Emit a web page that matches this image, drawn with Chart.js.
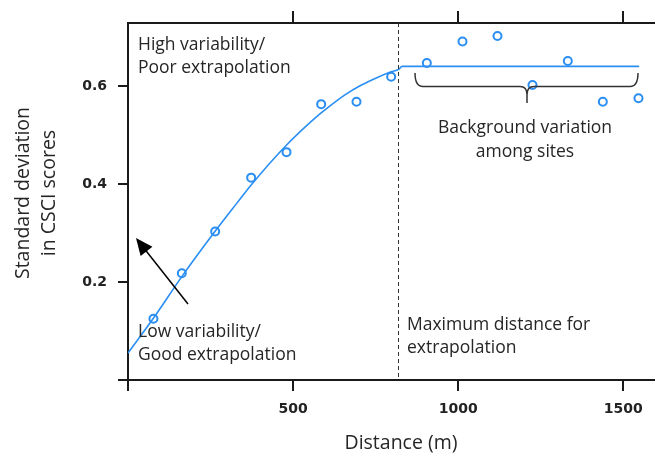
<!DOCTYPE html>
<html lang="en">
<head>
<meta charset="UTF-8">
<title>SD of CSCI scores vs distance</title>
<script src="https://cdn.jsdelivr.net/npm/chart.js@4"></script>
<style>
  html, body { margin: 0; padding: 0; background: #fff; }
  #wrap { width: 660px; height: 458px; position: relative; }
</style>
</head>
<body>
<div id="wrap"><canvas id="chart"></canvas></div>
<script>
// observed SD of CSCI scores per distance class
const siteDist = [77, 163, 264, 373, 480, 585, 692, 797, 905, 1013, 1119, 1225, 1332, 1438, 1546];
const siteSd   = [0.125, 0.218, 0.303, 0.413, 0.465, 0.563, 0.568, 0.619, 0.647, 0.691, 0.702, 0.602, 0.651, 0.568, 0.575];

// fitted curve
const fitDist = [0, 79, 164, 262, 331, 373, 481, 567, 607, 657, 707, 757, 797, 820, 830, 1548];
const fitSd   = [0.055, 0.128, 0.212, 0.302, 0.362, 0.398, 0.480, 0.535, 0.557, 0.582, 0.602, 0.618, 0.629, 0.634, 0.640, 0.640];

const xTicks = [0, 500, 1000, 1500];
const xTopTicks = [500, 1000, 1500];
const yTicks = [0, 0.2, 0.4, 0.6];
const cutoffDist = 818;

const blue = '#2a8ef2';
const ink = '#1a1a1a';
const textCol = '#262626';
const annFont = '17.5px "Open Sans"';
const titleFont = '19.5px "Open Sans"';
const tickFont = { family: 'DejaVu Sans', size: 14, weight: 'bold' };

function axisStyle() {
  return {
    grid: { drawOnChartArea: false, drawTicks: true, tickLength: 10, color: ink, lineWidth: 2 },
    border: { display: true, color: ink, width: 2 }
  };
}

const decor = {
  id: 'decor',
  afterDraw(chart) {
    const ctx = chart.ctx;
    const x = chart.scales.x;
    const area = chart.chartArea;
    ctx.save();

    // cutoff line
    const cx = Math.round(x.getPixelForValue(cutoffDist)) + 0.5;
    ctx.strokeStyle = '#333';
    ctx.lineWidth = 1;
    ctx.setLineDash([4, 3]);
    ctx.beginPath();
    ctx.moveTo(cx, area.top);
    ctx.lineTo(cx, area.bottom);
    ctx.stroke();
    ctx.setLineDash([]);

    // brace over the plateau
    const xl = 415, xr = 638, xc = 527, yTop = 73, yMid = 86.5, yTip = 103;
    ctx.strokeStyle = '#333';
    ctx.lineWidth = 1.5;
    ctx.beginPath();
    ctx.moveTo(xl, yTop);
    ctx.quadraticCurveTo(xl, yMid, xl + 8, yMid);
    ctx.lineTo(xc - 7, yMid);
    ctx.quadraticCurveTo(xc, yMid, xc, yMid + 8);
    ctx.lineTo(xc, yTip);
    ctx.moveTo(xc, yMid + 8);
    ctx.quadraticCurveTo(xc, yMid, xc + 7, yMid);
    ctx.lineTo(xr - 8, yMid);
    ctx.quadraticCurveTo(xr, yMid, xr, yTop);
    ctx.stroke();

    // arrow
    const tx = 188, ty = 304, hx = 136, hy = 238;
    const ang = Math.atan2(hy - ty, hx - tx);
    const len = 17, half = 7.5;
    ctx.strokeStyle = '#000';
    ctx.fillStyle = '#000';
    ctx.lineWidth = 1.5;
    ctx.beginPath();
    ctx.moveTo(tx, ty);
    ctx.lineTo(hx - Math.cos(ang) * len * 0.8, hy - Math.sin(ang) * len * 0.8);
    ctx.stroke();
    const bx = hx - Math.cos(ang) * len, by = hy - Math.sin(ang) * len;
    ctx.beginPath();
    ctx.moveTo(hx, hy);
    ctx.lineTo(bx + Math.sin(ang) * half, by - Math.cos(ang) * half);
    ctx.lineTo(bx - Math.sin(ang) * half, by + Math.cos(ang) * half);
    ctx.closePath();
    ctx.fill();

    // annotation text
    ctx.fillStyle = textCol;
    ctx.font = annFont;
    ctx.textBaseline = 'alphabetic';
    ctx.textAlign = 'left';
    ctx.fillText('High variability/', 138, 50);
    ctx.fillText('Poor extrapolation', 138, 73);
    ctx.fillText('Low variability/', 138, 337);
    ctx.fillText('Good extrapolation', 138, 360);
    ctx.fillText('Maximum distance for', 407, 330);
    ctx.fillText('extrapolation', 407, 353);
    ctx.textAlign = 'center';
    ctx.fillText('Background variation', 525, 133);
    ctx.fillText('among sites', 525, 157);

    // axis titles
    ctx.font = titleFont;
    ctx.fillText('Distance (m)', 401, 449);
    ctx.translate(0, 193);
    ctx.rotate(-Math.PI / 2);
    ctx.fillText('Standard deviation', 0, 29);
    ctx.fillText('in CSCI scores', 0, 55);
    ctx.restore();
  }
};

new Chart(document.getElementById('chart'), {
  type: 'scatter',
  data: {
    datasets: [
      {
        type: 'line',
        data: fitDist.map((d, i) => ({ x: d, y: fitSd[i] })),
        borderColor: blue,
        borderWidth: 1.6,
        pointRadius: 0,
        fill: false,
        cubicInterpolationMode: 'monotone'
      },
      {
        data: siteDist.map((d, i) => ({ x: d, y: siteSd[i] })),
        pointRadius: 4,
        pointBorderWidth: 2,
        pointBorderColor: blue,
        pointBackgroundColor: 'rgba(0,0,0,0)',
        showLine: false
      }
    ]
  },
  options: {
    responsive: true,
    maintainAspectRatio: false,
    animation: false,
    layout: { padding: 0 },
    plugins: { legend: { display: false }, tooltip: { enabled: false } },
    scales: {
      x: {
        type: 'linear', position: 'bottom', min: 0, max: 1593,
        ...axisStyle(),
        grid: { drawOnChartArea: false, drawTicks: true, tickLength: 11, color: ink, lineWidth: 2 },
        afterBuildTicks: s => { s.ticks = xTicks.map(v => ({ value: v })); },
        afterFit: s => { s.height = 78; },
        ticks: {
          autoSkip: false, maxRotation: 0, padding: 10, color: '#222', font: tickFont,
          callback: v => v === 0 ? '' : String(v)
        }
      },
      x2: {
        type: 'linear', position: 'top', min: 0, max: 1593,
        ...axisStyle(),
        grid: { drawOnChartArea: false, drawTicks: true, tickLength: 12, color: ink, lineWidth: 2 },
        afterBuildTicks: s => { s.ticks = xTopTicks.map(v => ({ value: v })); },
        afterFit: s => { s.height = 23; },
        ticks: { display: false }
      },
      y: {
        type: 'linear', min: 0, max: 0.7286,
        ...axisStyle(),
        afterBuildTicks: s => { s.ticks = yTicks.map(v => ({ value: v })); },
        afterFit: s => { s.width = 128; },
        ticks: {
          padding: 11, color: '#222', font: tickFont,
          callback: v => v === 0 ? '' : v.toFixed(1)
        }
      }
    }
  },
  plugins: [decor]
});
</script>
</body>
</html>
